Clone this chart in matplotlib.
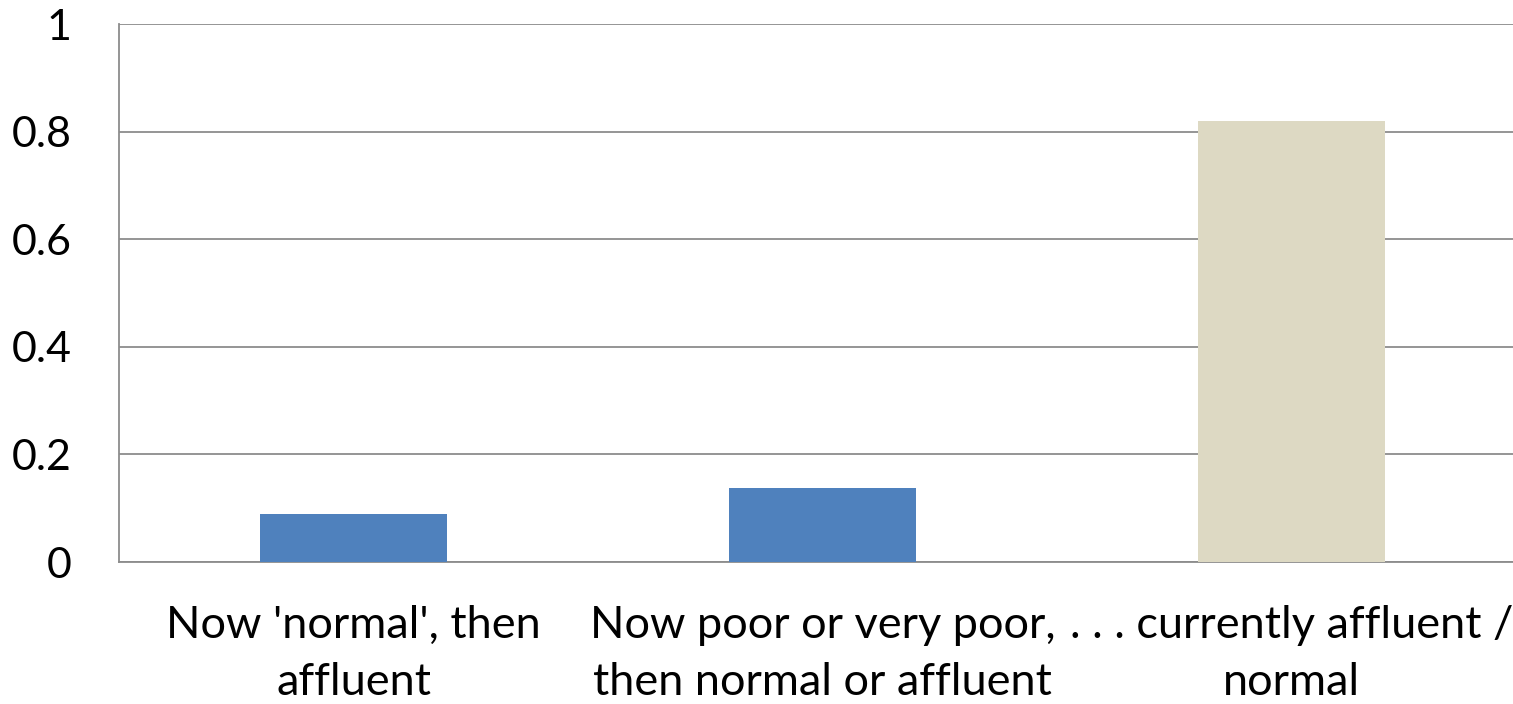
import matplotlib.pyplot as plt

# 数据
categories = ["Now 'normal', then\naffluent",
              "Now poor or very poor,\nthen normal or affluent",
              ". . . currently affluent /\nnormal"]
values = [0.089, 0.138, 0.82]
bar_colors = ['#4F81BD', '#4F81BD', '#DDD9C3']
y_ticks = [0, 0.2, 0.4, 0.6, 0.8, 1]
y_tick_labels = ['0', '0.2', '0.4', '0.6', '0.8', '1']

plt.rcParams['font.family'] = ['Lato', 'DejaVu Sans']

fig = plt.figure(figsize=(15.13, 7.04), dpi=100)
ax = fig.add_axes([119 / 1513, 142 / 704, 1407 / 1513, 538 / 704])

x = range(len(categories))
ax.bar(x, values, width=0.4, color=bar_colors, zorder=3)

ax.set_xlim(-0.5, 2.5)
ax.set_ylim(0, 1)
ax.set_yticks(y_ticks)
ax.set_yticklabels(y_tick_labels)
ax.set_xticks(list(x))
ax.set_xticklabels(categories, linespacing=1.47)
ax.tick_params(axis='both', length=0, colors='black')
ax.tick_params(axis='y', pad=34, labelsize=31)
ax.tick_params(axis='x', pad=31, labelsize=32.5)

ax.yaxis.grid(True, color='#8c8c8c', linewidth=1.3, zorder=0)
for side in ['top', 'right']:
    ax.spines[side].set_visible(False)
ax.spines['left'].set_color('#8c8c8c')
ax.spines['bottom'].set_color('#8c8c8c')
ax.spines['left'].set_linewidth(1.3)
ax.spines['bottom'].set_linewidth(1.3)

plt.savefig('out.png', dpi=100)
